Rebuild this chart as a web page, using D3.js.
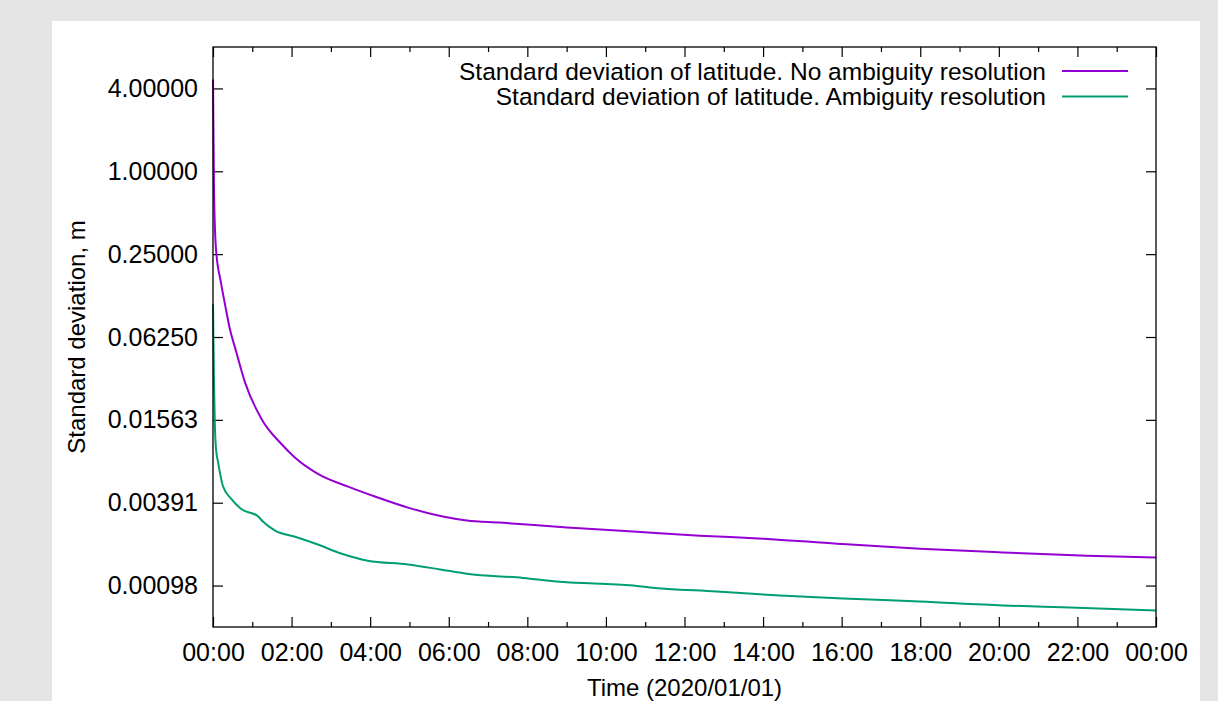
<!DOCTYPE html>
<html>
<head>
<meta charset="utf-8">
<script src="https://cdn.jsdelivr.net/npm/d3@7"></script>
<style>
  html, body { margin: 0; padding: 0; background: #e5e5e5; }
  svg { display: block; }
  text { font-family: "Liberation Sans", Arial, sans-serif; fill: #000; }
</style>
</head>
<body>
<div id="chart"></div>
<script>
// hours since 2020-01-01 00:00 and std. deviation (m)
const noArHours = [0, 0.025, 0.076, 0.2, 0.305, 0.43, 0.585, 0.81, 1.25, 1.76, 2.09, 2.67, 3.44, 4.12, 4.96, 5.85, 6.46, 7.3, 9.01, 10.69, 12.39, 14.0, 15.88, 17.99, 20.1, 22.24, 24];
const noArValues = [4.65, 0.74, 0.272, 0.1565, 0.108, 0.0714, 0.0495, 0.0295, 0.0156, 0.0103, 0.0083, 0.00634, 0.00511, 0.00433, 0.0036, 0.0031, 0.0029, 0.0028, 0.00258, 0.00241, 0.00225, 0.00214, 0.00197, 0.00181, 0.0017, 0.00161, 0.00156];

const arHours = [0, 0.025, 0.05, 0.076, 0.127, 0.25, 0.46, 0.71, 1.15, 1.27, 1.58, 2.09, 2.67, 3.26, 3.94, 4.96, 5.78, 6.46, 7.89, 8.83, 10.69, 11.12, 12.82, 14.43, 16.03, 17.99, 20.1, 21.81, 24];
const arValues = [0.108, 0.0295, 0.0135, 0.00961, 0.00776, 0.00519, 0.00418, 0.00353, 0.0031, 0.00285, 0.00245, 0.00221, 0.00194, 0.00167, 0.00148, 0.00139, 0.00128, 0.00119, 0.00111, 0.00104, 0.000977, 0.000945, 0.000884, 0.000827, 0.000787, 0.000748, 0.0007, 0.000677, 0.000644];

const seriesNames = [
  "Standard deviation of latitude. No ambiguity resolution",
  "Standard deviation of latitude. Ambiguity resolution"
];
const seriesColors = ["#9400d3", "#009e73"];

const yTickValues = [4, 1, 0.25, 0.0625, 0.015625, 0.00390625, 0.0009765625];
const yDomain = [Math.pow(2, -11), 8];

const W = 1218, H = 701;
const FS = 25;
const plot = { left: 213, top: 47, right: 1156, bottom: 627 };
const t0 = Date.UTC(2020, 0, 1);
const toDate = h => new Date(t0 + h * 3600e3);

const svg = d3.select("#chart").append("svg").attr("width", W).attr("height", H);

// white page panel
svg.append("rect").attr("x", 52).attr("y", 21).attr("width", 1148).attr("height", H)
  .attr("fill", "#fff");

const x = d3.scaleUtc().domain([toDate(0), toDate(24)]).range([plot.left, plot.right]);
const y = d3.scaleLog().base(4).domain(yDomain).range([plot.bottom, plot.top]);

const majorX = d3.range(0, 25, 2).map(toDate);
const minorX = d3.range(1, 24, 2).map(toDate);
const fmt = d3.utcFormat("%H:%M");

const axes = svg.append("g");

// bottom / top ticks (inward)
axes.append("g").attr("transform", `translate(0,${plot.bottom})`)
  .call(d3.axisBottom(x).tickValues(majorX).tickFormat(fmt).tickSizeInner(-10).tickSizeOuter(0).tickPadding(16))
  .call(g => g.select(".domain").remove());
axes.append("g").attr("transform", `translate(0,${plot.bottom})`)
  .call(d3.axisBottom(x).tickValues(minorX).tickFormat("").tickSizeInner(-5).tickSizeOuter(0))
  .call(g => g.select(".domain").remove());
axes.append("g").attr("transform", `translate(0,${plot.top})`)
  .call(d3.axisTop(x).tickValues(majorX).tickFormat("").tickSizeInner(-10).tickSizeOuter(0))
  .call(g => g.select(".domain").remove());
axes.append("g").attr("transform", `translate(0,${plot.top})`)
  .call(d3.axisTop(x).tickValues(minorX).tickFormat("").tickSizeInner(-5).tickSizeOuter(0))
  .call(g => g.select(".domain").remove());

// left / right ticks
axes.append("g").attr("transform", `translate(${plot.left},0)`)
  .call(d3.axisLeft(y).tickValues(yTickValues).tickFormat(d3.format(".5f")).tickSizeInner(-10).tickSizeOuter(0).tickPadding(15))
  .call(g => g.select(".domain").remove());
axes.append("g").attr("transform", `translate(${plot.right},0)`)
  .call(d3.axisRight(y).tickValues(yTickValues).tickFormat("").tickSizeInner(-10).tickSizeOuter(0))
  .call(g => g.select(".domain").remove());

axes.selectAll(".tick line").attr("stroke", "#000").attr("stroke-width", 1.2);
axes.selectAll(".tick text").attr("font-size", FS).attr("font-family", "Liberation Sans, Arial, sans-serif").attr("fill", "#000");

// curves
const line = d3.line().x(d => x(d[0])).y(d => y(d[1])).curve(d3.curveMonotoneX);
const series = [
  d3.zip(noArHours.map(toDate), noArValues),
  d3.zip(arHours.map(toDate), arValues)
];
series.forEach((s, i) => {
  svg.append("path").datum(s)
    .attr("fill", "none")
    .attr("stroke", seriesColors[i])
    .attr("stroke-width", 2)
    .attr("d", line);
});

// frame
svg.append("rect")
  .attr("x", plot.left).attr("y", plot.top)
  .attr("width", plot.right - plot.left).attr("height", plot.bottom - plot.top)
  .attr("fill", "none").attr("stroke", "#000").attr("stroke-width", 1.3);

// legend
const legend = svg.append("g");
seriesNames.forEach((name, i) => {
  const ly = 71 + i * 25.5;
  legend.append("text").attr("x", 1046).attr("y", ly).attr("dy", "0.35em")
    .attr("text-anchor", "end").attr("font-size", FS - 0.5).text(name);
  legend.append("line").attr("x1", 1062).attr("x2", 1128).attr("y1", ly).attr("y2", ly)
    .attr("stroke", seriesColors[i]).attr("stroke-width", 2);
});

// axis titles
svg.append("text").attr("x", (plot.left + plot.right) / 2).attr("y", 696)
  .attr("text-anchor", "middle").attr("font-size", FS - 1).text("Time (2020/01/01)");
svg.append("text").attr("transform", `translate(85,${(plot.top + plot.bottom) / 2}) rotate(-90)`)
  .attr("text-anchor", "middle").attr("font-size", FS - 1).text("Standard deviation, m");
</script>
</body>
</html>
